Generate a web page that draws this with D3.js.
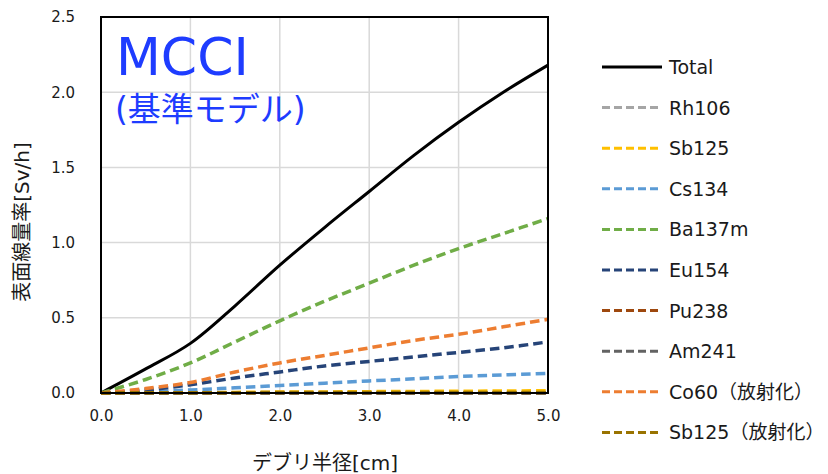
<!DOCTYPE html>
<html>
<head>
<meta charset="utf-8">
<script src="https://cdn.jsdelivr.net/npm/d3@7/dist/d3.min.js"></script>
<style>
  html, body { margin: 0; padding: 0; background: #fff; }
  svg { display: block; }
  text { font-family: "DejaVu Sans", "Noto Sans CJK JP", sans-serif; fill: #1a1a1a; }
</style>
</head>
<body>
<svg id="chart" width="828" height="474"></svg>
<script>
// Debris radius [cm]
const radius = [0, 0.5, 1.0, 1.5, 2.0, 2.5, 3.0, 3.5, 4.0, 4.5, 5.0];

// Surface dose rate [Sv/h] by nuclide
const total     = [0, 0.16, 0.33, 0.58, 0.85, 1.10, 1.34, 1.58, 1.80, 2.00, 2.18];
const rh106     = [0, 0, 0, 0, 0, 0, 0, 0, 0, 0, 0];
const sb125     = [0, 0.001, 0.003, 0.004, 0.006, 0.007, 0.009, 0.010, 0.012, 0.013, 0.015];
const cs134     = [0, 0.008, 0.02, 0.035, 0.05, 0.065, 0.08, 0.095, 0.11, 0.12, 0.13];
const ba137m    = [0, 0.09, 0.20, 0.34, 0.48, 0.61, 0.73, 0.85, 0.96, 1.06, 1.16];
const eu154     = [0, 0.02, 0.055, 0.10, 0.14, 0.18, 0.21, 0.24, 0.27, 0.30, 0.34];
const pu238     = [0, 0, 0, 0, 0, 0, 0, 0, 0, 0, 0];
const am241     = [0, 0, 0, 0, 0, 0, 0, 0, 0, 0, 0];
const co60      = [0, 0.03, 0.07, 0.14, 0.20, 0.25, 0.30, 0.35, 0.39, 0.44, 0.49];
const sb125act  = [0, 0.002, 0.002, 0.002, 0.003, 0.003, 0.003, 0.003, 0.003, 0.003, 0.003];

const seriesNames  = ["Total", "Rh106", "Sb125", "Cs134", "Ba137m", "Eu154", "Pu238", "Am241", "Co60（放射化）", "Sb125（放射化）"];
const seriesValues = [total, rh106, sb125, cs134, ba137m, eu154, pu238, am241, co60, sb125act];
const seriesColors = ["#000000", "#A5A5A5", "#FFC000", "#5B9BD5", "#70AD47", "#264478", "#9E480E", "#636363", "#ED7D31", "#997300"];

const xTicks = [0, 1, 2, 3, 4, 5];
const yTicks = [0, 0.5, 1.0, 1.5, 2.0, 2.5];

const svg = d3.select("#chart");
const plot = { left: 101, right: 548, top: 17, bottom: 393 };

const x = d3.scaleLinear().domain([0, 5]).range([plot.left, plot.right]);
const y = d3.scaleLinear().domain([0, 2.5]).range([plot.bottom, plot.top]);

// gridlines
const grid = svg.append("g");
grid.selectAll("line.v").data(xTicks).join("line")
  .attr("x1", d => x(d)).attr("x2", d => x(d))
  .attr("y1", plot.top).attr("y2", plot.bottom)
  .attr("stroke", "#d9d9d9").attr("stroke-width", 1.5);
grid.selectAll("line.h").data(yTicks).join("line")
  .attr("x1", plot.left).attr("x2", plot.right)
  .attr("y1", d => y(d)).attr("y2", d => y(d))
  .attr("stroke", "#d9d9d9").attr("stroke-width", 1.5);

// axes (labels only; frame drawn separately)
const xAxis = svg.append("g").attr("transform", `translate(0,${plot.bottom})`)
  .call(d3.axisBottom(x).tickValues(xTicks).tickFormat(d3.format(".1f")).tickSize(0).tickPadding(17));
const yAxis = svg.append("g").attr("transform", `translate(${plot.left},0)`)
  .call(d3.axisLeft(y).tickValues(yTicks).tickFormat(d3.format(".1f")).tickSize(0).tickPadding(26));
[xAxis, yAxis].forEach(a => {
  a.select(".domain").remove();
  a.selectAll("text").attr("font-size", 15).attr("fill", "#1a1a1a")
    .attr("font-family", "\"DejaVu Sans\", sans-serif");
});

// series lines (smoothed)
const line = d3.line()
  .x((d, i) => x(radius[i]))
  .y(d => y(d))
  .curve(d3.curveCatmullRom.alpha(0.5));

svg.append("clipPath").attr("id", "plotClip")
  .append("rect").attr("x", plot.left - 4).attr("y", plot.top)
  .attr("width", plot.right - plot.left + 6).attr("height", plot.bottom - plot.top + 4);

const lines = svg.append("g").attr("clip-path", "url(#plotClip)");
seriesValues.forEach((vals, k) => {
  lines.append("path")
    .attr("d", line(vals))
    .attr("fill", "none")
    .attr("stroke", seriesColors[k])
    .attr("stroke-width", k === 0 ? 3 : 3.5)
    .attr("stroke-linejoin", "round")
    .attr("stroke-dasharray", k === 0 ? null : "9.5,5");
});

// plot frame
svg.append("rect")
  .attr("x", plot.left).attr("y", plot.top)
  .attr("width", plot.right - plot.left).attr("height", plot.bottom - plot.top)
  .attr("fill", "none").attr("stroke", "#000").attr("stroke-width", 2);

// title inside plot
svg.append("text").attr("x", 116).attr("y", 75)
  .attr("font-family", "\"Noto Sans CJK JP\", sans-serif")
  .attr("font-size", 52).style("fill", "#1E3CFF").text("MCCI");
svg.append("text").attr("x", 115).attr("y", 121)
  .attr("font-family", "\"Noto Sans CJK JP\", sans-serif")
  .attr("font-size", 33).style("fill", "#1E3CFF").text("(基準モデル)");

// axis titles
svg.append("text")
  .attr("x", 325).attr("y", 470)
  .attr("text-anchor", "middle").attr("font-size", 20)
  .text("デブリ半径[cm]");
svg.append("text")
  .attr("transform", "translate(29,222) rotate(-90)")
  .attr("text-anchor", "middle").attr("font-size", 20)
  .text("表面線量率[Sv/h]");

// legend
const legend = svg.append("g");
seriesNames.forEach((name, k) => {
  const cy = 67 + k * 40.6;
  legend.append("line")
    .attr("x1", 602).attr("x2", 662).attr("y1", cy).attr("y2", cy)
    .attr("stroke", seriesColors[k]).attr("stroke-width", 3)
    .attr("stroke-dasharray", k === 0 ? null : "8,4");
  legend.append("text")
    .attr("x", 669).attr("y", cy + 7)
    .attr("font-size", 19)
    .text(name);
});
</script>
</body>
</html>
